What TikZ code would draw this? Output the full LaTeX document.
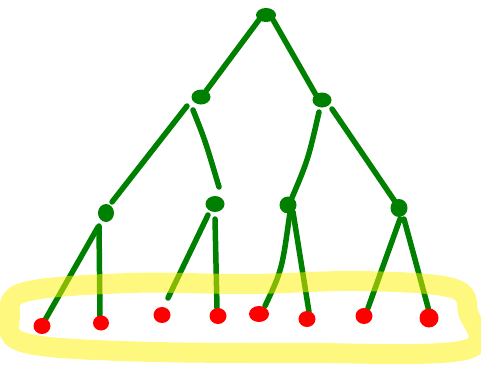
\documentclass[tikz,border=0pt]{standalone}
\usetikzlibrary{shapes.geometric}
\begin{document}
\begin{tikzpicture}[x=1pt,y=-1pt,
  edge/.style={draw=treegreen,line width=5.5pt,line cap=round},
  inner/.style={ellipse,fill=treegreen,inner sep=0pt,minimum width=19pt,minimum height=15pt},
  leaf/.style={ellipse,fill=red,inner sep=0pt,minimum width=17pt,minimum height=16pt},
  highlight/.style={draw=yellow,opacity=0.5,line width=20pt,line cap=round,line join=round}]
\definecolor{treegreen}{RGB}{0,128,0}
\useasboundingbox (0,0) rectangle (481,369);
\node[inner] (a) at (201,97) {};
\node[inner] (b) at (322,100) {};
\node[inner,minimum width=16pt,minimum height=18pt] (c) at (106,213) {};
\node[inner,minimum width=19pt,minimum height=16pt] (d) at (215,204) {};
\node[inner,minimum width=17pt,minimum height=17pt] (e) at (288,205) {};
\node[inner,minimum width=17pt,minimum height=18pt] (f) at (399,208) {};
\node[inner,minimum width=20pt,minimum height=14pt] (root) at (266,15) {};
% edges
\draw[edge] (root.south west) -- (206,91);
\draw[edge] (root.south east) -- (316,95);
\draw[edge] (187,106) -- (112,202);
\draw[edge] (193,110) .. controls (205,140) .. (219,187);
\draw[edge] (319,112) .. controls (308,160) .. (291,200);
\draw[edge] (332,109) .. controls (360,150) .. (396,203);
\draw[edge] (98,227) -- (45,320);
\draw[edge] (99,226) -- (100,317);
\draw[edge] (208,215) -- (168,298);
\draw[edge] (215,219) -- (217,308);
\draw[edge] (290,212) .. controls (282,270) .. (265,306);
\draw[edge] (293,212) -- (309,312);
\draw[edge] (400,219) -- (368,308);
\draw[edge] (404,219) -- (429,311);
% highlighter
\draw[highlight] plot[smooth cycle,tension=0.6] coordinates {(25,292) (130,283) (250,284) (360,281) (452,288) (468,312) (465,350) (300,353) (120,351) (22,342) (10,316)};
% leaves
\node[leaf] (l1) at (42,326) {};
\node[leaf,minimum width=16pt,minimum height=15pt] (l2) at (101,323) {};
\node[leaf] (l3) at (162,315) {};
\node[leaf] (l4) at (218,316) {};
\node[leaf,minimum width=20pt,minimum height=16pt] (l5) at (259,314) {};
\node[leaf] (l6) at (307,319) {};
\node[leaf] (l7) at (364,316) {};
\node[leaf,minimum width=19pt,minimum height=19pt] (l8) at (429,318) {};
\end{tikzpicture}
\end{document}
